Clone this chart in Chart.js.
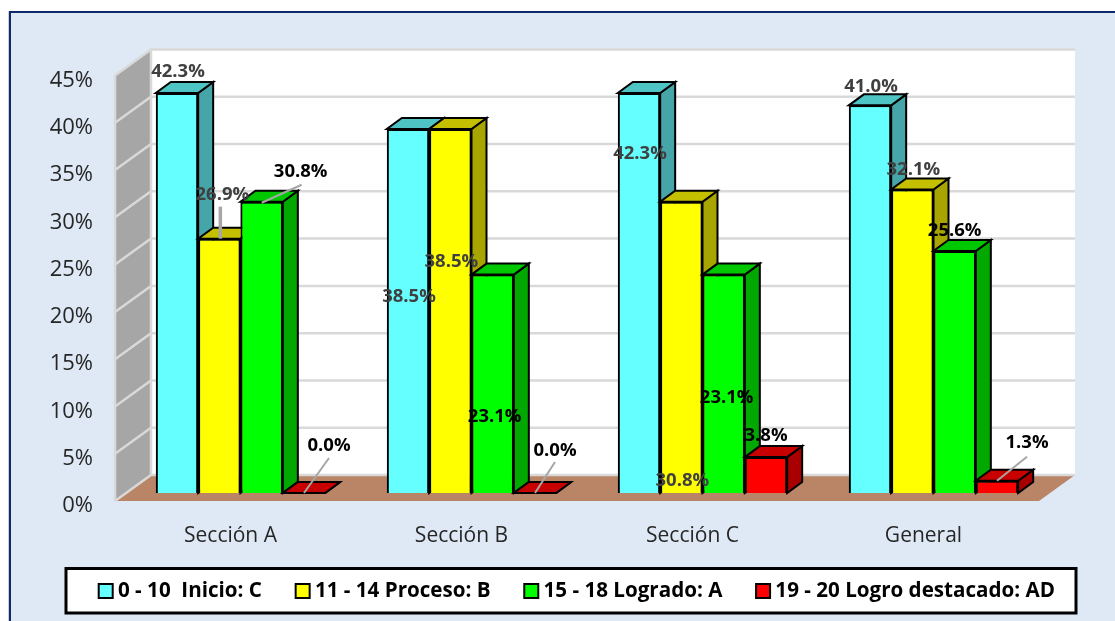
<!DOCTYPE html>
<html><head><meta charset="utf-8">
<style>html,body{margin:0;padding:0;background:#fff;overflow:hidden}
#wrap{position:absolute;left:0;top:0;width:1115px;height:621px}
canvas{display:block}</style>
<script src="https://cdn.jsdelivr.net/npm/chart.js@4"></script></head>
<body><div id="wrap"><canvas id="c" width="1115" height="621"></canvas></div>
<script>
const categories = ['Sección A','Sección B','Sección C','General'];
const seriesNames = ['0 - 10  Inicio: C','11 - 14 Proceso: B','15 - 18 Logrado: A','19 - 20 Logro destacado: AD'];
const inicio = [42.3,38.5,42.3,41.0];
const proceso = [26.9,38.5,30.8,32.1];
const logrado = [30.8,23.1,23.1,25.6];
const destacado = [0.0,0.0,3.8,1.3];
const yTicks = [0,5,10,15,20,25,30,35,40,45];
const frontColors = ['#66FFFF','#FFFF00','#00FF00','#FF0000'];
const topColors = ['#4FC4C4','#C4C000','#00C800','#C80000'];
const sideColors = ['#45A5A8','#A8A400','#00A800','#A80000'];
const labelColors = ['#404040','#404040','#000000','#000000'];
// label displacement from each bar's top centre, [dx,dy], by series then category
const labelShift = [
 [[1,-21],[1,168],[1,61],[1,-19]],
 [[3,-44],[1,133],[1,279],[1,-20]],
 [[39,-30],[2,142],[3,123],[0,-20]],
 [[25,-47],[20,-42],[0,-21],[30,-38]]
];
// leader lines relative to bar top centre
const leaders = [
 [null,null,null,null],
 [[[1,-32],[1,0],3.5],null,null,null],
 [[[40,-17],[0,1],2],null,null,null],
 [[[25,-35],[0,0],2],[[20,-31],[0,0],2],null,[[30,-24],[0,0],2]]
];
const near = [10,8];   // offset of the bars' front plane to the floor's front edge
const back = [26,18];  // offset of the back wall from the bars' front plane
const depth = [15,11]; // bar depth

function poly(ctx,pts,fill,stroke,lw){
  ctx.beginPath();pts.forEach((p,i)=>i?ctx.lineTo(p[0],p[1]):ctx.moveTo(p[0],p[1]));ctx.closePath();
  if(fill){ctx.fillStyle=fill;ctx.fill();}
  if(stroke){ctx.strokeStyle=stroke;ctx.lineWidth=lw;ctx.lineJoin='miter';ctx.stroke();}
}
const frame = {id:'frame',beforeDraw(chart){
  const c=chart.ctx;c.save();
  c.fillStyle='#DEE9F5';c.fillRect(10,12,1105,609);
  c.strokeStyle='#D0D0D0';c.lineWidth=1;
  c.beginPath();c.moveTo(8.5,621);c.lineTo(8.5,11);c.stroke();
  c.strokeStyle='#0F2A6C';c.lineWidth=2;
  c.beginPath();c.moveTo(10,621);c.lineTo(10,12);c.lineTo(1115,12);c.stroke();
  c.fillStyle='#fff';c.strokeStyle='#000';c.lineWidth=3;
  c.fillRect(66,568.5,1010,44.5);c.strokeRect(66,568.5,1010,44.5);
  c.restore();
}};
const walls = {id:'walls',beforeDatasetsDraw(chart){
  const c=chart.ctx,a=chart.chartArea,y=chart.scales.y;c.save();
  const y0=y.getPixelForValue(0),yT=y.getPixelForValue(45);
  const L=a.left-near[0],R=a.right-near[0],BL=a.left+back[0],BR=a.right+back[0];
  poly(c,[[BL,yT-back[1]],[BR,yT-back[1]],[BR,y0-back[1]],[BL,y0-back[1]]],'#FFFFFF');
  poly(c,[[L,yT+near[1]],[BL,yT-back[1]],[BL,y0-back[1]],[L,y0+near[1]]],'#A6A6A6');
  poly(c,[[L,y0+near[1]],[R,y0+near[1]],[BR,y0-back[1]],[BL,y0-back[1]]],'#B98566');
  c.strokeStyle='#D9D9D9';c.lineWidth=2.5;
  yTicks.forEach(t=>{const p=y.getPixelForValue(t);
    c.beginPath();c.moveTo(L,p+near[1]);c.lineTo(BL,p-back[1]);c.lineTo(BR,p-back[1]);c.stroke();});
  c.beginPath();c.moveTo(L,yT+near[1]);c.lineTo(L,y0+near[1]);c.stroke();
  c.beginPath();c.moveTo(BL,yT-back[1]);c.lineTo(BL,y0-back[1]);c.stroke();
  c.restore();
}};
const bars3d = {id:'bars3d',
 beforeLayout(chart){
   const lg=chart.legend;
   if(lg) lg.fit=function(){Object.getPrototypeOf(this).fit.call(this);this.height=60;};
 },
 afterLayout(chart){ const lg=chart.legend; if(lg){lg.left=65;lg.right=1110;lg.top=538.5;lg.bottom=621;} },
 afterDatasetsDraw(chart){
  const c=chart.ctx;c.save();
  const [dx,dy]=depth;
  chart.data.datasets.forEach((ds,i)=>{
    chart.getDatasetMeta(i).data.forEach(el=>{
      const hw=el.width/2,l=el.x-hw,r=el.x+hw,t=el.y,b=el.base;
      poly(c,[[r,t],[r+dx,t-dy],[r+dx,b-dy],[r,b]],sideColors[i],'#000',2);
      poly(c,[[l,t],[r,t],[r+dx,t-dy],[l+dx,t-dy]],topColors[i],'#000',2);
      el.draw(c);
    });
  });
  c.textAlign='center';c.textBaseline='middle';c.font='bold 18.5px "Open Sans"';
  chart.data.datasets.forEach((ds,i)=>{
    chart.getDatasetMeta(i).data.forEach((el,j)=>{
      const ld=leaders[i][j];
      if(ld){c.strokeStyle='#A6A6A6';c.lineWidth=ld[2];c.beginPath();
        c.moveTo(el.x+ld[0][0],el.y+ld[0][1]);c.lineTo(el.x+ld[1][0],el.y+ld[1][1]);c.stroke();}
    });
  });
  chart.data.datasets.forEach((ds,i)=>{
    chart.getDatasetMeta(i).data.forEach((el,j)=>{
      c.fillStyle=labelColors[i];
      c.fillText(ds.data[j].toFixed(1)+'%',el.x+labelShift[i][j][0],el.y+labelShift[i][j][1]);
    });
  });
  c.restore();
 },
 afterDraw(chart){
  const c=chart.ctx;c.save();
  chart.legend.legendHitBoxes.forEach((h,i)=>{
    c.fillStyle=frontColors[i];c.strokeStyle='#000';c.lineWidth=2;
    c.fillRect(h.left-9,584,14,14);c.strokeRect(h.left-9,584,14,14);
  });
  c.restore();
 }};
new Chart(document.getElementById('c'),{
  type:'bar',
  data:{labels:categories,datasets:[inicio,proceso,logrado,destacado].map((d,i)=>({
    label:seriesNames[i],data:d,backgroundColor:frontColors[i],borderColor:'#000',borderWidth:2,
    categoryPercentage:0.733,barPercentage:1}))},
  plugins:[frame,walls,bars3d],
  options:{
    responsive:false,animation:false,
    layout:{padding:{left:0,right:66,top:67.5,bottom:0}},
    plugins:{tooltip:{enabled:false},title:{display:false},
      legend:{position:'bottom',align:'start',labels:{color:'#000',boxWidth:0,padding:42.7,font:{family:'"Open Sans"',size:20.6,weight:'bold'},
        generateLabels(chart){return Chart.defaults.plugins.legend.labels.generateLabels(chart).map(l=>({...l,lineWidth:0,fillStyle:'rgba(0,0,0,0)',strokeStyle:'rgba(0,0,0,0)'}));}}}},
    scales:{
      x:{grid:{display:false},border:{display:false},afterFit(s){s.height=68;},
        ticks:{color:'#262626',font:{family:'"Open Sans"',size:21},labelOffset:-10,padding:22}},
      y:{min:0,max:45,grid:{display:false},border:{display:false},afterFit(s){s.width=125;},
        afterBuildTicks(s){s.ticks=yTicks.map(v=>({value:v}));},
        ticks:{color:'#262626',font:{family:'"Open Sans"',size:22},labelOffset:13,padding:24,callback:v=>v+'%'}}
    }
  }
});
</script></body></html>
